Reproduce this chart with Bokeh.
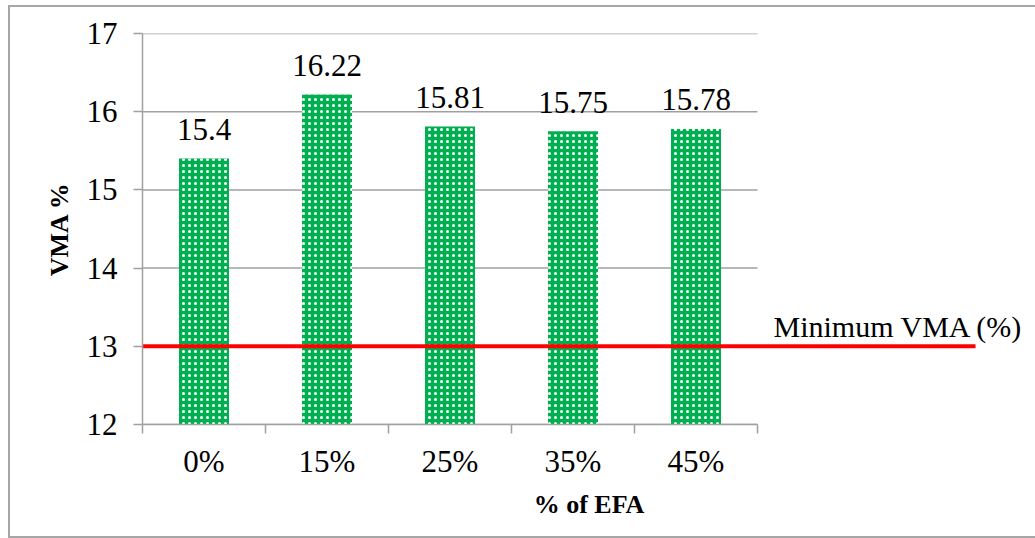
from bokeh.plotting import figure
from bokeh.models import Range1d, FixedTicker, InlineStyleSheet
from bokeh.core.properties import value
from bokeh.embed import file_html
from bokeh.resources import INLINE

# --- data -------------------------------------------------------------
categories = ["0%", "15%", "25%", "35%", "45%"]
vma = [15.4, 16.22, 15.81, 15.75, 15.78]
vma_labels = ["15.4", "16.22", "15.81", "15.75", "15.78"]
y_ticks = [12, 13, 14, 15, 16, 17]
min_vma = 13
min_label = "Minimum VMA (%)"

# --- layout -----------------------------------------------------------
W, H = 1035, 538
LEFT, TOP, BOTTOM = 142, 33, 114
CAT_PX = 123            # pixel width of one category slot
RED_END_PX = 975        # where the threshold line stops
FONT = "Liberation Serif"
GRAY = "#A0A0A0"

n = len(categories)
xs = [i + 1 for i in range(n)]
x_start = 0.5
x_end = x_start + (W - LEFT) / CAT_PX
red_end = x_start + (RED_END_PX - LEFT) / CAT_PX

p = figure(width=W, height=H, output_backend="svg", toolbar_location=None,
           x_range=Range1d(x_start, x_end), y_range=Range1d(y_ticks[0], y_ticks[-1]),
           min_border_left=LEFT, min_border_top=TOP, min_border_bottom=BOTTOM,
           min_border_right=0)
p.outline_line_color = None
p.xgrid.visible = False
p.ygrid.visible = False

# horizontal grid lines limited to the category area
p.segment(x0=x_start, x1=n + 0.5, y0=y_ticks, y1=y_ticks,
          line_color=GRAY, line_width=1.5)

# bars with a white dot pattern
p.vbar(x=xs, top=vma, bottom=y_ticks[0], width=50 / CAT_PX,
       fill_color="#00B050", line_color=None,
       hatch_pattern="dot", hatch_color="white", hatch_scale=6, hatch_weight=2)

# value labels above bars
p.text(x=xs, y=vma, text=vma_labels, y_offset=-29,
       text_align="center", text_baseline="alphabetic",
       text_font=value(FONT), text_font_size="31px", text_color="black")

# threshold line and its label
p.line(x=[x_start, red_end], y=[min_vma, min_vma], line_color="#FF0000", line_width=4)
p.text(x=[red_end], y=[min_vma], text=[min_label], x_offset=48, y_offset=-20,
       text_align="right", text_baseline="alphabetic",
       text_font=value(FONT), text_font_size="30px", text_color="black")

# x axis: labels at slot centres, ticks at slot boundaries
xa = p.xaxis[0]
xa.ticker = FixedTicker(ticks=xs, minor_ticks=[i + 0.5 for i in range(n + 1)])
xa.major_label_overrides = {x: c for x, c in zip(xs, categories)}
xa.bounds = (x_start, n + 0.5)
xa.axis_line_color = GRAY
xa.axis_line_width = 1.5
xa.major_tick_line_color = None
xa.minor_tick_line_color = GRAY
xa.minor_tick_line_width = 1.5
xa.minor_tick_in = 0
xa.minor_tick_out = 9
xa.major_label_standoff = 10
xa.major_label_text_font = FONT
xa.major_label_text_font_size = "31px"
xa.major_label_text_color = "black"
xa.axis_label = "% of EFA"
xa.axis_label_text_font = FONT
xa.axis_label_text_font_style = "bold"
xa.axis_label_text_font_size = "26px"
xa.axis_label_text_color = "black"
xa.axis_label_standoff = 8

ya = p.yaxis[0]
ya.ticker = FixedTicker(ticks=y_ticks)
ya.axis_line_color = GRAY
ya.axis_line_width = 1.5
ya.major_tick_line_color = GRAY
ya.major_tick_line_width = 1.5
ya.major_tick_in = 0
ya.major_tick_out = 9
ya.minor_tick_line_color = None
ya.major_label_standoff = 16
ya.major_label_text_font = FONT
ya.major_label_text_font_size = "31px"
ya.major_label_text_color = "black"
ya.axis_label = "VMA %"
ya.axis_label_text_font = FONT
ya.axis_label_text_font_style = "bold"
ya.axis_label_text_font_size = "26px"
ya.axis_label_text_color = "black"
ya.axis_label_standoff = 10

# thin frame around the whole chart area
p.stylesheets = [InlineStyleSheet(css="""
:host { position: relative; }
:host::after {
  content: ""; position: absolute; left: 8px; top: 5px;
  width: 1027px; height: 533px; box-sizing: border-box;
  border: 2px solid #A6A6A6; border-right: none; pointer-events: none;
}
""")]

open("out.html", "w").write(file_html(p, INLINE))
